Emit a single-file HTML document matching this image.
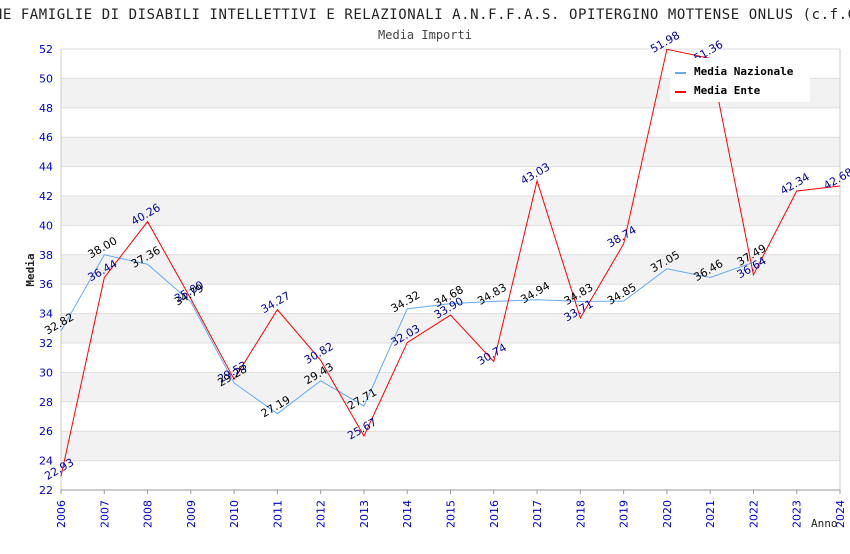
<!DOCTYPE html>
<html><head><meta charset="utf-8"><style>
body{margin:0;background:#fff;font-family:"DejaVu Sans Mono","Liberation Mono",monospace}
svg text{font-family:"DejaVu Sans Mono","Liberation Mono",monospace}
svg text.s{font-family:"DejaVu Sans","Liberation Sans",sans-serif}
</style></head><body>
<svg id="chart" width="850" height="550" xmlns="http://www.w3.org/2000/svg">
<text x="-96" y="19" font-size="14" textLength="952" lengthAdjust="spacing" fill="#222">ASSOCIAZIONE FAMIGLIE DI DISABILI INTELLETTIVI E RELAZIONALI A.N.F.F.A.S. OPITERGINO MOTTENSE ONLUS (c.f.C</text>
<text x="425" y="39" font-size="12" text-anchor="middle" fill="#444">Media Importi</text>
<g id="grid"></g><g id="series"></g><g id="labels"></g>
<text transform="translate(34,270) rotate(-90)" font-size="11" font-weight="bold" text-anchor="middle" fill="#222">Media</text>
<text x="811" y="527" font-size="11" fill="#222">Anno</text>
<g>
<rect x="670" y="58" width="140" height="44" fill="#fff"/>
<line x1="675" y1="73" x2="686" y2="73" stroke="#66aaee" stroke-width="2"/>
<text x="694" y="75" font-size="11" font-weight="bold" fill="#000">Media Nazionale</text>
<line x1="675" y1="92" x2="686" y2="92" stroke="#ff0000" stroke-width="2"/>
<text x="694" y="94" font-size="11" font-weight="bold" fill="#000">Media Ente</text>
</g>
</svg>
<script>
const years=[2006,2007,2008,2009,2010,2011,2012,2013,2014,2015,2016,2017,2018,2019,2020,2021,2022,2023,2024];
const nazionale=[32.82,38.00,37.36,34.79,29.28,27.19,29.43,27.71,34.32,34.68,34.83,34.94,34.83,34.85,37.05,36.46,37.49,null,null];
const ente=[22.93,36.44,40.26,35.00,29.53,34.27,30.82,25.67,32.03,33.90,30.74,43.03,33.71,38.74,51.98,51.36,36.64,42.34,42.68];
const yTicks=[22,24,26,28,30,32,34,36,38,40,42,44,46,48,50,52];
const X0=61,X1=840,Y0=490,Y1=49;
const xs=i=>X0+(X1-X0)*(years[i]-years[0])/(years[years.length-1]-years[0]);
const ys=v=>Y0-(v-22)/(52-22)*(Y0-Y1);
const NS="http://www.w3.org/2000/svg";
function mk(t,a,p){const e=document.createElementNS(NS,t);for(const k in a)e.setAttribute(k,a[k]);p.appendChild(e);return e;}
const g=document.getElementById('grid');
for(let i=0;i<yTicks.length-1;i++){
 const r=mk('rect',{x:X0,y:ys(yTicks[i+1]),width:X1-X0,height:ys(yTicks[i])-ys(yTicks[i+1]),fill:i%2===1?'#f2f2f2':'#fff'},g);
 
 
}
yTicks.forEach(v=>{
 mk('line',{x1:X0,x2:X1,y1:ys(v),y2:ys(v),stroke:'#ddd'},g);
 const t=mk('text',{x:X0-8,y:ys(v)+4,'font-size':11,'text-anchor':'end',fill:'#0000cc',class:'s'},g);t.textContent=v;
 
 
});
mk('line',{x1:X0,x2:X0,y1:Y1,y2:Y0,stroke:'#ccc'},g);
mk('line',{x1:X1,x2:X1,y1:Y1,y2:Y0,stroke:'#ccc'},g);
mk('line',{x1:X0,x2:X1,y1:Y0,y2:Y0,stroke:'#999'},g);
years.forEach((y,i)=>{
 mk('line',{x1:xs(i),x2:xs(i),y1:Y0,y2:Y0+4,stroke:'#999'},g);
 const t=mk('text',{transform:`translate(${xs(i)+4},${Y0+38}) rotate(-90)`,'font-size':11,fill:'#0000cc',class:'s'},g);t.textContent=y;
 
 
});
const s=document.getElementById('series'),L=document.getElementById('labels');
function draw(arr,color,lc,name){
 const pts=arr.map((v,i)=>v==null?null:xs(i)+','+ys(v)).filter(p=>p);
 const pl=mk('polyline',{points:pts.join(' '),fill:'none',stroke:color,'stroke-width':1},s);
 
 
 arr.forEach((v,i)=>{if(v==null)return;
  const x=xs(i),y=ys(v);
  const t=mk('text',{transform:`translate(${x},${y-4}) rotate(-30)`,'font-size':11,'text-anchor':'middle',fill:lc,class:'s'},L);
  t.textContent=v.toFixed(2);
  
  
 });
}
draw(nazionale,'#66aaee','#000','media-nazionale');
draw(ente,'#ff0000','#000099','media-ente');
</script>
</body></html>
